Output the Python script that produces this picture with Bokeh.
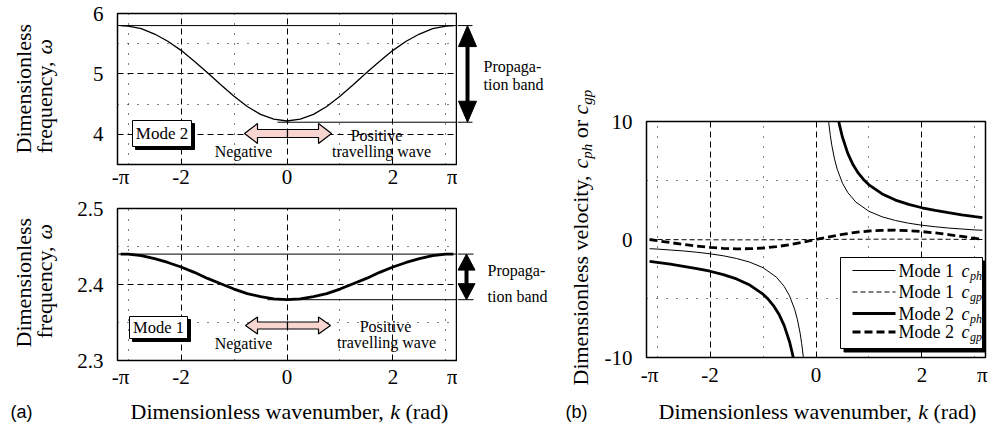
import math
from bokeh.plotting import figure
from bokeh.models import Label, BoxAnnotation, Arrow, Grid, FixedTicker, Range1d
from bokeh.layouts import row, column
from bokeh.embed import file_html
from bokeh.resources import INLINE

PI = math.pi

# ---------------- data ----------------
k = [-PI, -3.0, -2.75, -2.5, -2.25, -2.0, -1.75, -1.5, -1.25, -1.0, -0.75, -0.5, -0.25, 0.0,
     0.25, 0.5, 0.75, 1.0, 1.25, 1.5, 1.75, 2.0, 2.25, 2.5, 2.75, 3.0, PI]

omega_mode2 = [5.80, 5.79, 5.75, 5.66, 5.54, 5.39, 5.21, 5.02, 4.82, 4.63, 4.46, 4.33, 4.25, 4.22,
               4.25, 4.33, 4.46, 4.63, 4.82, 5.02, 5.21, 5.39, 5.54, 5.66, 5.75, 5.79, 5.80]
omega_mode1 = [2.440, 2.440, 2.438, 2.434, 2.429, 2.423, 2.416, 2.408, 2.401, 2.394, 2.388, 2.384, 2.381, 2.380,
               2.381, 2.384, 2.388, 2.394, 2.401, 2.408, 2.416, 2.423, 2.429, 2.434, 2.438, 2.440, 2.440]
band_mode2 = [4.20, 5.80]
band_mode1 = [2.38, 2.44]

cgp_mode2 = [0.00, -0.10, -0.26, -0.42, -0.56, -0.67, -0.75, -0.79, -0.78, -0.72, -0.61, -0.44, -0.23, 0.00,
             0.23, 0.44, 0.61, 0.72, 0.78, 0.79, 0.75, 0.67, 0.56, 0.42, 0.26, 0.10, 0.00]
cgp_mode1 = [0.000, -0.004, -0.011, -0.018, -0.023, -0.027, -0.030, -0.030, -0.029, -0.026, -0.021, -0.015, -0.008, 0.000,
             0.008, 0.015, 0.021, 0.026, 0.029, 0.030, 0.030, 0.027, 0.023, 0.018, 0.011, 0.004, 0.000]

k_ph1_neg = [-PI, -3.0, -2.75, -2.5, -2.25, -2.0, -1.75, -1.5, -1.25, -1.0, -0.75, -0.6, -0.5, -0.4, -0.35, -0.3, -0.27, -0.24, -0.22]
cph1_neg = [-0.78, -0.81, -0.89, -0.97, -1.08, -1.21, -1.38, -1.61, -1.92, -2.39, -3.18, -3.98, -4.77, -5.96, -6.81, -7.94, -8.82, -9.92, -10.82]
k_ph1_pos = [0.22, 0.24, 0.27, 0.3, 0.35, 0.4, 0.5, 0.6, 0.75, 1.0, 1.25, 1.5, 1.75, 2.0, 2.25, 2.5, 2.75, 3.0, PI]
cph1_pos = [10.82, 9.92, 8.82, 7.94, 6.81, 5.96, 4.77, 3.98, 3.18, 2.39, 1.92, 1.61, 1.38, 1.21, 1.08, 0.97, 0.89, 0.81, 0.78]
k_ph2_neg = [-PI, -3.0, -2.75, -2.5, -2.25, -2.0, -1.75, -1.5, -1.25, -1.0, -0.9, -0.8, -0.7, -0.6, -0.5, -0.45, -0.43, -0.4]
cph2_neg = [-1.85, -1.93, -2.09, -2.27, -2.46, -2.69, -2.98, -3.34, -3.86, -4.63, -5.07, -5.62, -6.33, -7.30, -8.66, -9.58, -10.01, -10.73]
k_ph2_pos = [0.4, 0.43, 0.45, 0.5, 0.6, 0.7, 0.8, 0.9, 1.0, 1.25, 1.5, 1.75, 2.0, 2.25, 2.5, 2.75, 3.0, PI]
cph2_pos = [10.73, 10.01, 9.58, 8.66, 7.30, 6.33, 5.62, 5.07, 4.63, 3.86, 3.34, 2.98, 2.69, 2.46, 2.27, 2.09, 1.93, 1.85]

x_ticks = [-PI, -2, 0, 2, PI]
x_tick_labels = ["-π", "-2", "0", "2", "π"]
yticks_top = [4, 5, 6]
yticks_bottom = [2.3, 2.4, 2.5]
yticks_right = [-10, 0, 10]
legend_labels = ["Mode 1", "Mode 1", "Mode 2", "Mode 2"]
legend_subs = ["ph", "gp", "ph", "gp"]

# ---------------- styling ----------------
SERIF = "Liberation Serif"
SANS = "Liberation Sans"
PINK = "#f8d5d0"
XR = (-3.2, 3.2)
MID = 0.3375   # distance (in em) from the alphabetic baseline to the middle of the text box


class Map:
    """page pixel -> coordinate of one figure, for placing decorations"""
    def __init__(self, L, R, T, B, xr, yr):
        self.L, self.R, self.T, self.B, self.xr, self.yr = L, R, T, B, xr, yr

    def x(self, px):
        return self.xr[0] + (px - self.L) / (self.R - self.L) * (self.xr[1] - self.xr[0])

    def y(self, py):
        return self.yr[1] - (py - self.T) / (self.B - self.T) * (self.yr[1] - self.yr[0])

    def dy(self, npx):
        return npx / (self.B - self.T) * (self.yr[1] - self.yr[0])


def make_fig(width, height, yr, bl, br, bt, bb, yticks, xstand):
    p = figure(width=width, height=height, x_range=Range1d(*XR), y_range=Range1d(*yr),
               output_backend="svg", toolbar_location=None,
               min_border_left=bl, min_border_right=br, min_border_top=bt, min_border_bottom=bb)
    p.xgrid.visible = False
    p.ygrid.visible = False
    p.outline_line_color = "black"
    p.outline_line_width = 1.5
    p.outline_line_alpha = 1.0
    p.background_fill_color = "white"
    p.border_fill_color = "white"
    for ax in p.axis:
        ax.axis_line_color = None
        ax.major_tick_line_color = None
        ax.minor_tick_line_color = None
        ax.major_tick_out = 0
        ax.major_tick_in = 0
        ax.minor_tick_out = 0
        ax.minor_tick_in = 0
        ax.major_label_text_font = SERIF
        ax.major_label_text_font_size = "21px"
        ax.major_label_text_color = "black"
    p.xaxis.ticker = FixedTicker(ticks=x_ticks)
    p.xaxis.major_label_overrides = dict(zip(x_ticks, x_tick_labels))
    p.xaxis.major_label_standoff = xstand
    p.yaxis.ticker = FixedTicker(ticks=yticks)
    p.yaxis.major_label_overrides = {t: ("%g" % t) for t in yticks}
    p.yaxis.major_label_standoff = 14
    return p


def deco_fig(width, height, xr, yr, bl=0, br=0, bt=0, bb=0):
    p = figure(width=width, height=height, x_range=Range1d(*xr), y_range=Range1d(*yr),
               output_backend="svg", toolbar_location=None,
               x_axis_location=None, y_axis_location=None,
               min_border_left=bl, min_border_right=br, min_border_top=bt, min_border_bottom=bb)
    for g in p.grid:
        g.visible = False
    p.outline_line_color = None
    p.background_fill_color = "white"
    p.border_fill_color = "white"
    return p


def add_grid(p, dim, ticks, dash):
    p.add_layout(Grid(dimension=dim, ticker=FixedTicker(ticks=ticks), grid_line_color="black",
                      grid_line_dash=dash, grid_line_width=1, grid_line_alpha=1.0))


def lab(p, M, text, px, py, size, align="left", style="normal", font=SERIF, vertical=False):
    """(px, py): page position of the start of the text's baseline"""
    if vertical:
        x, y, ang = M.x(px - MID * size), M.y(py), PI / 2
    else:
        x, y, ang = M.x(px), M.y(py - MID * size), 0.0
    p.add_layout(Label(x=x, y=y, text=text, text_font=font, text_font_size="%gpx" % size,
                       text_font_style=style, text_align=align, text_baseline="middle",
                       angle=ang, text_color="black"))


def pink_arrows(p, M, cx, cy, lx, rx, sh, hh, hl):
    for tip, sgn in ((lx, 1), (rx, -1)):
        base = tip + sgn * hl
        pts = [(cx, cy - sh), (base, cy - sh), (base, cy - hh), (tip, cy),
               (base, cy + hh), (base, cy + sh), (cx, cy + sh)]
        p.patch([M.x(a) for a, b in pts], [M.y(b) for a, b in pts],
                fill_color=PINK, line_color="black", line_width=1.2)


def shadow_box(p, M, l, t, r, b, off):
    p.add_layout(BoxAnnotation(left=M.x(l + off), right=M.x(r + off), top=M.y(t + off), bottom=M.y(b + off),
                               fill_color="black", fill_alpha=1.0, line_color="black", line_alpha=1.0))
    p.add_layout(BoxAnnotation(left=M.x(l), right=M.x(r), top=M.y(t), bottom=M.y(b),
                               fill_color="white", fill_alpha=1.0, line_color="black", line_alpha=1.0,
                               line_width=1))


def band_side(g, M, band, ax_px, head_len, head_half, end_px):
    """propagation band: extension of the band edges and a double arrow"""
    lo, hi = band
    x0, xe, ax = M.x(M.L), M.x(end_px), M.x(ax_px)
    g.line([x0, xe], [hi, hi], line_color="black", line_width=1)
    g.line([x0, xe], [lo, lo], line_color="black", line_width=1)
    hl = M.dy(head_len)
    g.line([ax, ax], [hi - hl * 0.9, lo + hl * 0.9], line_color="black", line_width=4)
    g.patch([ax, ax - head_half, ax + head_half], [hi, hi - hl, hi - hl],
            fill_color="black", line_color="black", line_width=1)
    g.patch([ax, ax - head_half, ax + head_half], [lo, lo + hl, lo + hl],
            fill_color="black", line_color="black", line_width=1)


# ---------------- top-left: mode 2 ----------------
f1 = make_fig(397, 196, (3.5, 6.0), 57, 1, 13, 32, yticks_top, 0)
M1 = Map(117, 456, 13, 164, XR, (3.5, 6.0))
add_grid(f1, 0, [-2, 0, 2], "6 4")
add_grid(f1, 0, [-3, -1, 1, 3], "1 9")
add_grid(f1, 1, [4, 5], "6 4")
add_grid(f1, 1, [4.5, 5.5], "1 9")
f1.line(k, omega_mode2, line_color="black", line_width=1.3)
f1.line([XR[0] - 0.1, XR[1] + 0.1], [band_mode2[1]] * 2, line_color="black", line_width=1)
f1.line([M1.x(277), XR[1] + 0.1], [band_mode2[0]] * 2, line_color="black", line_width=1)
pink_arrows(f1, M1, 287, 133, 244, 331, 4, 10, 13)
shadow_box(f1, M1, 132, 120, 191, 146, 3)
lab(f1, M1, "Mode 2", 161.5, 139, 17, align="center")
lab(f1, M1, "Negative", 243, 156.5, 16, align="center")
lab(f1, M1, "Positive", 376, 140, 16, align="center")
lab(f1, M1, "travelling wave", 381, 156.5, 16, align="center")

g1 = deco_fig(95, 196, (0, 95), (3.5, 6.0), bt=13, bb=32)
Mg1 = Map(457, 552, 13, 164, (0, 95), (3.5, 6.0))
band_side(g1, Mg1, band_mode2, 467, 21, 9, 472)
lab(g1, Mg1, "Propaga-", 483, 71, 16)
lab(g1, Mg1, "tion band", 483, 89, 16)

# ---------------- bottom-left: mode 1 ----------------
f2 = make_fig(397, 196, (2.3, 2.5), 57, 1, 12, 32, yticks_bottom, 4)
M2 = Map(117, 456, 208, 360, XR, (2.3, 2.5))
add_grid(f2, 0, [-2, 0, 2], "6 4")
add_grid(f2, 0, [-3, -1, 1, 3], "1 9")
add_grid(f2, 1, [2.4], "6 4")
add_grid(f2, 1, [2.35, 2.45], "1 9")
f2.line(k, omega_mode1, line_color="black", line_width=2.8)
f2.line([XR[0] - 0.1, XR[1] + 0.1], [band_mode1[1]] * 2, line_color="black", line_width=1)
f2.line([M2.x(267), XR[1] + 0.1], [band_mode1[0]] * 2, line_color="black", line_width=1)
pink_arrows(f2, M2, 287, 325, 245, 330, 3.5, 8.5, 12)
shadow_box(f2, M2, 129, 316, 187, 338, 3)
lab(f2, M2, "Mode 1", 158, 332.5, 16.5, align="center")
lab(f2, M2, "Negative", 243, 348, 16, align="center")
lab(f2, M2, "Positive", 385, 331, 16, align="center")
lab(f2, M2, "travelling wave", 386, 347, 16, align="center")

g2 = deco_fig(95, 196, (0, 95), (2.3, 2.5), bt=12, bb=32)
Mg2 = Map(457, 552, 208, 360, (0, 95), (2.3, 2.5))
band_side(g2, Mg2, band_mode1, 466, 16, 8.5, 473)
lab(g2, Mg2, "Propaga-", 487, 275, 16)
lab(g2, Mg2, "tion band", 487, 301, 16)

# left strip: y titles and panel letter (page x 0..60, full height)
h = deco_fig(60, 427, (0, 60), (0, 427))
Mh = Map(0, 60, 0, 427, (0, 60), (0, 427))
lab(h, Mh, "Dimensionless", 30, 153, 22, vertical=True)
lab(h, Mh, "frequency,", 51, 153, 22, vertical=True)
lab(h, Mh, "ω", 51, 54, 22, style="italic", vertical=True)
lab(h, Mh, "Dimensionless", 30, 347, 22, vertical=True)
lab(h, Mh, "frequency,", 51, 338, 22, vertical=True)
lab(h, Mh, "ω", 51, 239, 22, style="italic", vertical=True)
lab(h, Mh, "(a)", 10, 418, 18, font=SANS)

# bottom strip (page x 60..552, y 392..427)
sa = deco_fig(492, 35, (0, 492), (0, 35))
Msa = Map(60, 552, 392, 427, (0, 492), (0, 35))
lab(sa, Msa, "Dimensionless wavenumber,", 130, 418, 22)
lab(sa, Msa, "k", 389.7, 418, 22, style="italic")
lab(sa, Msa, "(rad)", 405, 418, 22)

# ---------------- right: velocities ----------------
f3 = make_fig(398, 392, (-10, 10), 49, 10, 121, 35, yticks_right, 5)
M3 = Map(646, 985, 121, 357, XR, (-10, 10))
add_grid(f3, 0, [-2, 0, 2], "6 4")
add_grid(f3, 0, [-3, -1, 1, 3], "1 9")
add_grid(f3, 1, [-5, 5], "1 9")
f3.line(k_ph1_neg, cph1_neg, line_color="black", line_width=1.0)
f3.line(k_ph1_pos, cph1_pos, line_color="black", line_width=1.0)
f3.line(k, cgp_mode1, line_color="black", line_width=1.0, line_dash="5 3")
f3.line(k_ph2_neg, cph2_neg, line_color="black", line_width=2.8)
f3.line(k_ph2_pos, cph2_pos, line_color="black", line_width=2.8)
f3.line(k, cgp_mode2, line_color="black", line_width=2.8, line_dash="8 4")

# legend
shadow_box(f3, M3, 840, 257, 982, 348, 3.5)
rows_y = [270, 291.5, 313, 331.5]
styles = [(1.0, "solid"), (1.0, "5 3"), (2.8, "solid"), (2.8, "8 4")]
for ry, (w, d), t, sub in zip(rows_y, styles, legend_labels, legend_subs):
    f3.add_layout(Arrow(end=None, start=None, x_start=M3.x(852), x_end=M3.x(895),
                        y_start=M3.y(ry), y_end=M3.y(ry), line_color="black", line_width=w, line_dash=d))
    lab(f3, M3, t, 898, ry + 6.5, 18)
    lab(f3, M3, "c", 961, ry + 6.5, 18, style="italic")
    lab(f3, M3, sub, 969.5, ry + 9.5, 12, style="italic")

# right strip: y title and panel letter (page x 552..597, full height)
h3 = deco_fig(45, 427, (0, 45), (0, 427))
Mh3 = Map(552, 597, 0, 427, (0, 45), (0, 427))
lab(h3, Mh3, "Dimensionless velocity,", 587, 385, 22, vertical=True)
lab(h3, Mh3, "c", 587, 168.1, 22, style="italic", vertical=True)
lab(h3, Mh3, "ph", 592, 158.3, 15, style="italic", vertical=True)
lab(h3, Mh3, "or", 587, 137.8, 22, vertical=True)
lab(h3, Mh3, "c", 587, 114.0, 22, style="italic", vertical=True)
lab(h3, Mh3, "gp", 592, 104.2, 15, style="italic", vertical=True)
lab(h3, Mh3, "(b)", 565, 418, 18, font=SANS)

# bottom strip (page x 597..995, y 392..427); its frame lines up with the panel frame (646..985)
sb = deco_fig(398, 35, (0, 339), (0, 35), bl=49, br=10)
Msb = Map(646, 985, 392, 427, (0, 339), (0, 35))
lab(sb, Msb, "Dimensionless wavenumber,", 658, 418, 22)
lab(sb, Msb, "k", 917.7, 418, 22, style="italic")
lab(sb, Msb, "(rad)", 933, 418, 22)

left = row(h, column(row(f1, g1), row(f2, g2), sa))
right = row(h3, column(f3, sb))
layout = row(left, right)
open("out.html", "w").write(file_html(layout, INLINE))
